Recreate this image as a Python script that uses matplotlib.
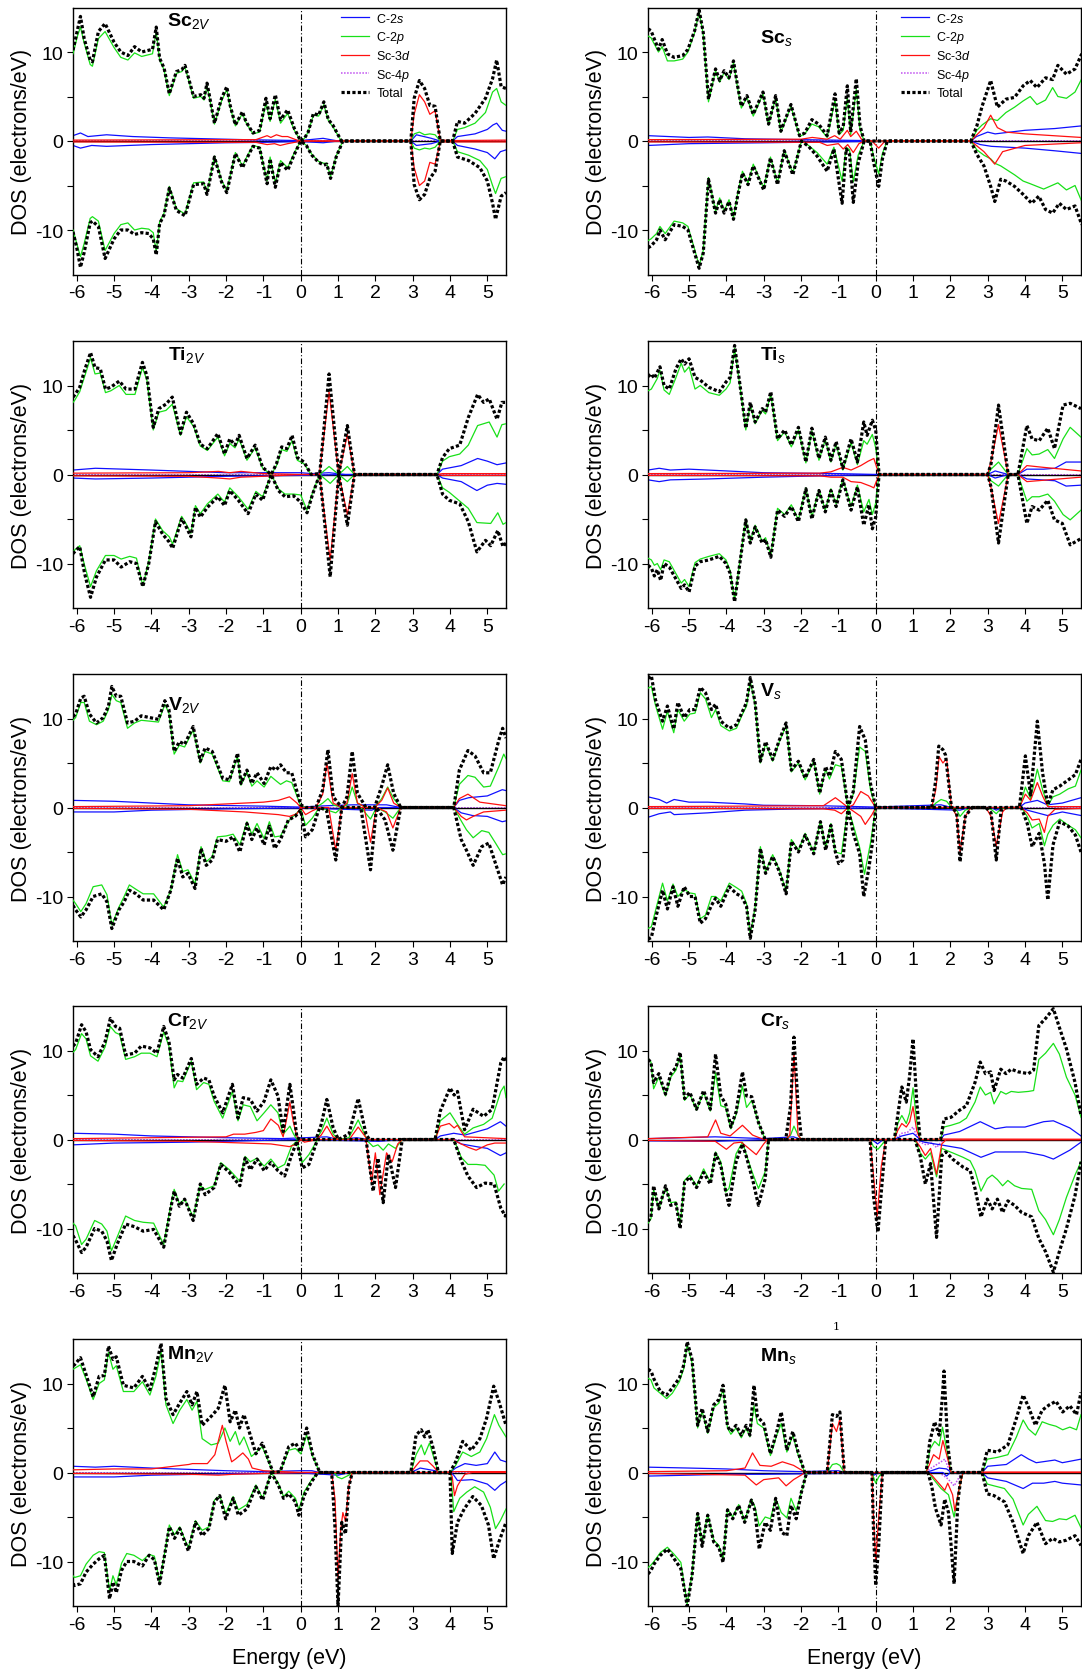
import numpy as np
import matplotlib
matplotlib.use('Agg')
import matplotlib.pyplot as plt

plt.rcParams['font.family'] = ['Liberation Sans', 'DejaVu Sans']
plt.rcParams['mathtext.fontset'] = 'custom'
plt.rcParams['mathtext.rm'] = 'Liberation Sans'
plt.rcParams['mathtext.it'] = 'Liberation Sans:italic'
plt.rcParams['mathtext.bf'] = 'Liberation Sans:bold'

# ---------------- data: (energy eV, DOS) knots ----------------
SC2V_TOT_UP = [(-6.1,10.2),(-5.98,12.5),(-5.9,14.0),(-5.8,11.5),(-5.64,9.1),(-5.58,8.9),(-5.42,12.3),(-5.24,13.2),(-5.0,11.1),(-4.82,10.0),(-4.63,9.6),(-4.45,10.6),(-4.26,10.0),(-4.07,10.2),(-3.97,10.3),(-3.87,12.8),(-3.78,9.3),(-3.66,8.2),(-3.52,5.3),(-3.33,7.8),(-3.19,8.0),(-3.1,8.5),(-3.0,7.0),(-2.87,5.0),(-2.68,5.2),(-2.59,4.8),(-2.51,6.5),(-2.45,5.2),(-2.31,2.0),(-2.12,4.8),(-1.98,6.1),(-1.89,4.0),(-1.75,1.8),(-1.56,3.3),(-1.47,2.2),(-1.28,0.9),(-1.1,1.2),(-0.93,4.8),(-0.82,2.5),(-0.68,5.2),(-0.54,2.4),(-0.35,3.5),(-0.17,1.4),(0,0),(0.1,0.3),(0.2,1.0),(0.34,3.1),(0.48,2.9),(0.62,4.4),(0.74,2.4),(0.86,1.8),(1.09,0),(2.95,0),(3.04,4.8),(3.18,6.8),(3.32,5.9),(3.46,4.0),(3.6,3.9),(3.74,0),(4.07,0),(4.2,2.2),(4.39,2.0),(4.67,3.1),(4.95,4.8),(5.14,7.0),(5.25,9.1),(5.37,6.1),(5.5,5.9)]
SC2V_P_UP = [(-6.1,9.8),(-5.98,11.8),(-5.9,12.8),(-5.8,11.0),(-5.64,8.6),(-5.58,8.4),(-5.42,11.5),(-5.24,12.3),(-5.0,10.5),(-4.82,9.4),(-4.63,9.1),(-4.45,9.9),(-4.26,9.5),(-4.07,9.7),(-3.97,9.8),(-3.87,12.3),(-3.78,9.1),(-3.66,8.0),(-3.52,5.1),(-3.33,7.6),(-3.19,7.8),(-3.1,8.3),(-3.0,6.8),(-2.87,4.8),(-2.68,5.0),(-2.59,4.6),(-2.51,6.2),(-2.45,5.0),(-2.31,1.9),(-2.12,4.5),(-1.98,5.8),(-1.89,3.8),(-1.75,1.7),(-1.56,3.1),(-1.47,2.1),(-1.28,0.8),(-1.1,1.0),(-0.93,4.3),(-0.82,2.2),(-0.68,4.7),(-0.54,2.0),(-0.35,3.1),(-0.17,1.2),(0,0),(0.1,0.3),(0.2,1.0),(0.34,2.9),(0.48,2.8),(0.62,4.1),(0.74,2.3),(0.86,1.6),(1.09,0),(2.95,0),(3.04,0.8),(3.18,1.0),(3.32,0.7),(3.46,0.8),(3.6,0.7),(3.74,0),(4.07,0),(4.2,1.3),(4.39,1.5),(4.67,2.0),(4.95,3.2),(5.14,5.5),(5.25,5.9),(5.37,4.4),(5.5,4.0)]
SC2V_D_UP = [(-6.1,0.1),(-2.0,0.15),(-1.2,0.15),(-0.9,0.6),(-0.8,0.4),(-0.65,0.7),(-0.5,0.5),(-0.35,0.5),(-0.1,0.1),(0,0),(2.95,0),(3.04,3.0),(3.18,5.2),(3.32,4.4),(3.46,3.0),(3.6,3.4),(3.74,0.1),(4.07,0.05),(5.5,0.1)]
SC2V_S_UP = [(-6.1,0.6),(-5.9,0.9),(-5.7,0.5),(-5.2,0.7),(-4.5,0.5),(-3.5,0.35),(-2.5,0.25),(-1.5,0.15),(0,0.05),(0.6,0.3),(1.0,0),(2.95,0),(3.1,0.7),(3.5,0.3),(3.74,0),(4.07,0),(4.2,0.5),(4.67,0.8),(5.0,1.3),(5.15,1.8),(5.25,2.0),(5.4,1.2),(5.5,1.1)]
SC2V_Q_UP = [(-6.1,0.0),(5.5,0.0)]
SC2V_TOT_DN = [(-6.1,-10.2),(-6.0,-12.0),(-5.9,-14.2),(-5.8,-12.5),(-5.64,-9.2),(-5.58,-9.0),(-5.42,-9.6),(-5.24,-13.2),(-5.0,-11.0),(-4.82,-10.0),(-4.63,-10.0),(-4.45,-10.5),(-4.26,-10.3),(-4.07,-10.4),(-3.95,-11.0),(-3.87,-12.8),(-3.78,-9.3),(-3.66,-8.3),(-3.52,-5.3),(-3.33,-7.8),(-3.1,-8.4),(-2.87,-4.9),(-2.6,-4.8),(-2.51,-6.0),(-2.31,-1.8),(-2.12,-4.6),(-1.98,-5.8),(-1.75,-1.4),(-1.56,-3.0),(-1.47,-2.2),(-1.28,-0.6),(-1.1,-0.8),(-0.9,-4.8),(-0.82,-2.0),(-0.68,-5.2),(-0.54,-2.4),(-0.35,-3.3),(-0.17,-1.5),(0,0),(0.15,-0.5),(0.3,-1.6),(0.48,-2.4),(0.62,-2.7),(0.7,-2.6),(0.8,-4.2),(0.95,-1.8),(1.13,0),(2.95,0),(3.04,-4.9),(3.18,-6.6),(3.32,-6.0),(3.46,-4.2),(3.6,-3.4),(3.74,0),(4.07,0),(4.2,-1.8),(4.5,-2.2),(4.8,-3.0),(5.0,-4.5),(5.14,-7.0),(5.22,-8.8),(5.37,-6.2),(5.5,-5.8)]
SC2V_P_DN = [(-6.1,-10.0),(-6.0,-11.5),(-5.9,-13.0),(-5.8,-11.5),(-5.64,-8.7),(-5.58,-8.5),(-5.42,-9.0),(-5.24,-12.3),(-5.0,-10.4),(-4.82,-9.4),(-4.63,-9.2),(-4.45,-10.0),(-4.26,-9.8),(-4.07,-9.9),(-3.95,-10.3),(-3.87,-12.5),(-3.78,-9.1),(-3.66,-8.1),(-3.52,-5.1),(-3.33,-7.6),(-3.1,-8.2),(-2.87,-4.7),(-2.6,-4.6),(-2.51,-5.8),(-2.31,-1.7),(-2.12,-4.4),(-1.98,-5.6),(-1.75,-1.3),(-1.56,-2.8),(-1.47,-2.0),(-1.28,-0.5),(-1.1,-0.7),(-0.9,-4.5),(-0.82,-1.8),(-0.68,-4.8),(-0.54,-2.2),(-0.35,-3.0),(-0.17,-1.3),(0,0),(0.15,-0.5),(0.3,-1.5),(0.48,-2.3),(0.62,-2.5),(0.7,-2.5),(0.8,-4.0),(0.95,-1.7),(1.13,0),(2.95,0),(3.04,-0.8),(3.18,-1.0),(3.32,-0.8),(3.46,-0.9),(3.6,-0.7),(3.74,0),(4.07,0),(4.2,-1.2),(4.5,-1.6),(4.8,-2.2),(5.0,-3.2),(5.14,-5.0),(5.22,-5.9),(5.37,-4.2),(5.5,-4.0)]
SC2V_D_DN = [(-6.1,-0.1),(-2.0,-0.15),(-1.2,-0.15),(-0.9,-0.4),(-0.7,-0.3),(-0.55,-0.5),(-0.35,-0.3),(-0.1,-0.1),(0,0),(2.95,0),(3.04,-3.0),(3.18,-5.0),(3.32,-4.5),(3.46,-2.4),(3.6,-2.6),(3.74,-0.1),(5.5,-0.1)]
SC2V_S_DN = [(-6.1,-0.5),(-5.9,-0.8),(-5.6,-0.5),(-5.2,-0.6),(-4.0,-0.4),(-3.0,-0.3),(-2.0,-0.2),(-1.0,-0.15),(0,-0.05),(0.6,-0.2),(1.0,0),(2.95,0),(3.1,-0.5),(3.5,-0.3),(3.74,0),(4.07,0),(4.2,-0.5),(4.67,-0.9),(5.0,-1.3),(5.2,-2.0),(5.35,-1.2),(5.5,-1.0)]
SC2V_Q_DN = [(-6.1,0.0),(5.5,0.0)]

SCS_TOT_UP = [(-6.1,12.6),(-6.02,12.4),(-5.82,10.3),(-5.72,11.4),(-5.58,9.8),(-5.4,9.4),(-5.17,9.6),(-5.03,10.3),(-4.85,12.4),(-4.73,14.7),(-4.62,12.2),(-4.48,4.7),(-4.29,8.1),(-4.18,6.8),(-4.06,7.9),(-3.93,7.1),(-3.81,9.0),(-3.7,6.2),(-3.6,3.9),(-3.45,5.1),(-3.28,3.0),(-3.02,5.5),(-2.87,1.9),(-2.68,5.1),(-2.54,1.1),(-2.27,4.1),(-2.04,0.6),(-1.9,0.9),(-1.71,2.4),(-1.53,1.9),(-1.3,0.6),(-1.09,5.3),(-0.98,0.9),(-0.87,1.6),(-0.76,6.2),(-0.67,1.0),(-0.52,7.0),(-0.42,1.7),(-0.31,0),(2.55,0),(2.71,1.7),(2.85,3.9),(3.08,6.8),(3.26,3.8),(3.49,4.7),(3.72,4.9),(3.95,6.2),(4.14,6.8),(4.32,6.0),(4.55,7.1),(4.74,6.9),(4.88,8.5),(5.11,7.5),(5.34,8.1),(5.52,9.8)]
SCS_P_UP = [(-6.1,11.8),(-6.02,11.6),(-5.82,10.0),(-5.72,10.6),(-5.58,9.0),(-5.4,9.0),(-5.17,9.2),(-5.03,10.0),(-4.85,12.2),(-4.73,14.5),(-4.62,12.0),(-4.48,4.4),(-4.29,7.9),(-4.18,6.6),(-4.06,7.7),(-3.93,6.9),(-3.81,8.8),(-3.7,6.0),(-3.6,3.7),(-3.45,4.9),(-3.28,2.8),(-3.02,5.3),(-2.87,1.8),(-2.68,4.9),(-2.54,1.0),(-2.27,3.9),(-2.04,0.5),(-1.9,0.8),(-1.71,1.9),(-1.53,1.6),(-1.3,0.4),(-1.09,4.6),(-0.98,0.7),(-0.87,1.2),(-0.76,4.9),(-0.67,0.7),(-0.52,5.8),(-0.42,1.3),(-0.31,0),(2.55,0),(2.71,1.2),(2.85,1.8),(3.08,2.5),(3.26,2.3),(3.49,3.2),(3.72,3.8),(3.95,4.5),(4.14,5.0),(4.32,4.1),(4.55,4.6),(4.74,6.0),(4.88,5.0),(5.11,4.8),(5.34,5.5),(5.52,7.0)]
SCS_D_UP = [(-6.1,0.15),(-2.0,0.2),(-1.7,0.4),(-1.3,0.2),(-1.1,0.6),(-0.95,0.2),(-0.76,1.2),(-0.67,0.5),(-0.52,1.1),(-0.35,0),(2.55,0),(2.71,0.7),(2.9,1.5),(3.08,2.9),(3.26,1.5),(3.5,1.0),(4.0,0.8),(5.5,0.4)]
SCS_S_UP = [(-6.1,0.6),(-5.0,0.4),(-4.5,0.45),(-3.5,0.25),(-2.0,0.15),(-0.3,0.05),(2.55,0),(2.7,0.5),(3.0,1.0),(3.2,0.8),(4.0,1.2),(4.8,1.4),(5.52,1.7)]
SCS_Q_UP = [(-6.1,0.0),(5.5,0.0)]
SCS_TOT_DN = [(-6.1,-12.0),(-6.02,-11.8),(-5.87,-11.1),(-5.78,-10.0),(-5.64,-11.1),(-5.4,-9.4),(-5.17,-9.6),(-5.03,-10.0),(-4.85,-12.6),(-4.73,-14.3),(-4.62,-12.6),(-4.48,-4.3),(-4.29,-8.1),(-4.18,-6.6),(-4.06,-8.1),(-3.93,-6.8),(-3.81,-8.8),(-3.7,-6.2),(-3.57,-3.6),(-3.42,-4.9),(-3.28,-2.8),(-3.0,-5.5),(-2.82,-1.9),(-2.63,-4.9),(-2.45,-1.1),(-2.22,-3.8),(-1.99,0),(-1.8,-0.6),(-1.57,-1.7),(-1.3,-3.4),(-1.12,-0.9),(-0.9,-7.0),(-0.79,-0.9),(-0.7,-1.5),(-0.6,-6.9),(-0.47,-2.5),(-0.31,0),(-0.15,0),(-0.05,-2.5),(0.08,-5.1),(0.18,-2.0),(0.31,0),(2.55,0),(2.71,-1.5),(2.9,-2.8),(3.08,-5.1),(3.19,-6.8),(3.35,-4.3),(3.49,-4.5),(3.72,-5.1),(3.95,-6.0),(4.18,-7.0),(4.37,-6.2),(4.55,-7.7),(4.74,-8.1),(4.92,-7.0),(5.11,-7.7),(5.34,-7.3),(5.52,-9.4)]
SCS_P_DN = [(-6.1,-11.2),(-6.02,-11.0),(-5.87,-10.4),(-5.78,-9.6),(-5.64,-10.4),(-5.4,-9.0),(-5.17,-9.2),(-5.03,-9.6),(-4.85,-12.2),(-4.73,-14.0),(-4.62,-12.3),(-4.48,-4.1),(-4.29,-7.9),(-4.18,-6.4),(-4.06,-7.9),(-3.93,-6.6),(-3.81,-8.6),(-3.7,-6.0),(-3.57,-3.4),(-3.42,-4.7),(-3.28,-2.6),(-3.0,-5.3),(-2.82,-1.8),(-2.63,-4.7),(-2.45,-1.0),(-2.22,-3.6),(-1.99,0),(-1.8,-0.5),(-1.57,-1.3),(-1.3,-2.6),(-1.12,-0.7),(-0.9,-4.5),(-0.79,-0.7),(-0.7,-1.0),(-0.6,-4.6),(-0.47,-1.6),(-0.31,0),(-0.15,0),(-0.05,-1.8),(0.08,-3.7),(0.18,-1.4),(0.31,0),(2.55,0),(2.71,-1.0),(2.9,-1.6),(3.08,-2.0),(3.19,-2.5),(3.35,-2.8),(3.72,-3.8),(3.95,-4.5),(4.14,-4.8),(4.5,-5.4),(4.88,-4.7),(5.11,-5.5),(5.34,-5.0),(5.52,-6.8)]
SCS_D_DN = [(-6.1,-0.1),(-1.5,-0.15),(-1.3,-0.5),(-1.0,-0.3),(-0.87,-0.9),(-0.75,-0.4),(-0.6,-1.3),(-0.45,-0.3),(-0.31,0),(-0.1,0),(0.08,-0.8),(0.25,0),(2.55,0),(2.9,-1.2),(3.19,-2.6),(3.4,-1.2),(4.0,-0.5),(5.5,-0.2)]
SCS_S_DN = [(-6.1,-0.5),(-5.0,-0.3),(-3.0,-0.2),(-0.3,-0.05),(2.55,0),(2.8,-0.4),(3.1,-0.6),(4.0,-0.8),(4.8,-1.1),(5.52,-1.4)]
SCS_Q_DN = [(-6.1,0.0),(5.5,0.0)]

TI2V_TOT_UP = [(-6.1,8.7),(-6.06,8.9),(-5.92,9.8),(-5.79,11.7),(-5.63,13.7),(-5.51,12.0),(-5.37,11.9),(-5.23,9.6),(-5.09,9.8),(-4.86,10.5),(-4.68,9.6),(-4.44,9.6),(-4.24,12.6),(-4.12,11.1),(-3.95,5.3),(-3.8,7.4),(-3.61,7.9),(-3.44,8.7),(-3.22,4.6),(-3.06,7.0),(-2.87,5.7),(-2.69,3.4),(-2.5,2.9),(-2.22,4.6),(-2.04,2.3),(-1.9,4.0),(-1.76,3.3),(-1.65,4.4),(-1.44,1.8),(-1.22,3.3),(-1.02,0.8),(-0.79,0),(-0.65,1.2),(-0.51,3.1),(-0.37,2.9),(-0.23,4.4),(-0.09,1.9),(0.09,1.4),(0.28,0),(0.51,0.1),(0.76,11.3),(1.02,0),(1.25,5.5),(1.44,0),(3.65,0),(3.8,1.9),(3.98,2.9),(4.26,3.3),(4.49,6.4),(4.74,9.0),(4.9,8.1),(5.05,8.5),(5.26,6.2),(5.39,8.1),(5.5,8.1)]
TI2V_P_UP = [(-6.1,8.1),(-6.06,8.3),(-5.92,9.3),(-5.79,11.0),(-5.63,13.1),(-5.51,11.3),(-5.37,11.4),(-5.23,9.2),(-5.09,9.4),(-4.86,10.0),(-4.68,9.0),(-4.44,9.0),(-4.24,12.0),(-4.12,10.6),(-3.95,5.0),(-3.8,7.0),(-3.61,7.2),(-3.44,7.9),(-3.22,4.4),(-3.06,6.5),(-2.87,5.4),(-2.69,3.2),(-2.5,2.7),(-2.22,4.2),(-2.04,2.1),(-1.9,3.5),(-1.76,3.0),(-1.65,4.0),(-1.44,1.6),(-1.22,3.0),(-1.02,0.7),(-0.79,0),(-0.65,1.0),(-0.51,2.8),(-0.37,2.6),(-0.23,3.8),(-0.09,1.6),(0.09,1.2),(0.28,0),(0.51,0),(0.76,0.9),(1.02,0),(1.25,0.9),(1.44,0),(3.65,0),(3.8,1.5),(3.98,2.0),(4.26,2.3),(4.49,3.3),(4.74,5.5),(5.05,5.9),(5.26,4.2),(5.39,5.6),(5.5,5.7)]
TI2V_D_UP = [(-6.1,0.15),(-3.0,0.2),(-2.2,0.35),(-1.9,0.2),(-1.6,0.35),(-1.0,0.1),(0,0),(0.5,0),(0.76,9.3),(1.02,0),(1.25,4.5),(1.44,0),(3.65,0),(3.8,0.1),(5.5,0.1)]
TI2V_S_UP = [(-6.1,0.5),(-5.5,0.7),(-4.0,0.5),(-2.0,0.2),(0,0.2),(0.3,0.1),(0.76,0.2),(1.2,0),(3.65,0),(3.8,0.6),(4.3,1.0),(4.74,1.8),(5.0,1.5),(5.26,1.1),(5.5,1.3)]
TI2V_Q_UP = [(-6.1,0.0),(5.5,0.0)]
TI2V_TOT_DN = [(-6.1,-8.9),(-6.06,-8.7),(-5.92,-8.1),(-5.79,-11.1),(-5.63,-13.8),(-5.47,-11.5),(-5.23,-9.6),(-5.0,-9.6),(-4.81,-10.4),(-4.58,-9.8),(-4.4,-10.0),(-4.23,-12.6),(-4.07,-10.0),(-3.89,-5.3),(-3.7,-6.7),(-3.52,-7.6),(-3.43,-8.3),(-3.19,-5.0),(-3.1,-5.6),(-2.94,-7.0),(-2.82,-3.7),(-2.69,-4.8),(-2.5,-3.7),(-2.22,-2.5),(-2.04,-3.5),(-1.9,-1.8),(-1.67,-2.9),(-1.41,-4.4),(-1.2,-2.2),(-1.02,-2.9),(-0.79,0),(-0.6,-1.8),(-0.42,-2.5),(-0.19,-2.4),(0,-3.1),(0.17,-4.3),(0.32,-2.2),(0.51,0),(0.79,-11.5),(1.02,0),(1.25,-5.7),(1.44,0),(3.65,0),(3.8,-2.2),(3.98,-2.9),(4.26,-3.3),(4.49,-5.3),(4.72,-8.7),(4.95,-7.4),(5.09,-8.0),(5.28,-6.3),(5.42,-8.1),(5.5,-7.7)]
TI2V_P_DN = [(-6.1,-8.7),(-6.06,-8.5),(-5.92,-8.0),(-5.79,-10.2),(-5.63,-12.6),(-5.47,-10.8),(-5.23,-9.1),(-5.0,-9.1),(-4.81,-9.5),(-4.58,-9.2),(-4.4,-9.4),(-4.23,-12.5),(-4.07,-9.8),(-3.89,-5.0),(-3.7,-6.3),(-3.52,-7.0),(-3.43,-7.8),(-3.19,-4.7),(-3.1,-5.3),(-2.94,-6.6),(-2.82,-3.5),(-2.69,-4.4),(-2.5,-3.3),(-2.22,-2.2),(-2.04,-3.1),(-1.9,-1.5),(-1.67,-2.5),(-1.41,-3.9),(-1.2,-1.9),(-1.02,-2.5),(-0.79,0),(-0.6,-1.6),(-0.42,-2.2),(-0.19,-2.2),(0,-2.3),(0.17,-4.0),(0.32,-2.0),(0.51,0),(0.79,-1.0),(1.02,0),(1.25,-0.8),(1.44,0),(3.65,0),(3.8,-1.5),(3.98,-2.0),(4.49,-3.8),(4.72,-5.4),(5.09,-5.5),(5.28,-4.3),(5.42,-5.6),(5.5,-5.4)]
TI2V_D_DN = [(-6.1,-0.15),(-3.0,-0.2),(-2.2,-0.4),(-1.9,-0.5),(-1.6,-0.3),(-1.0,-0.2),(0,0),(0.5,0),(0.79,-9.6),(1.02,0),(1.25,-4.5),(1.44,0),(3.65,0),(3.8,-0.1),(5.5,-0.1)]
TI2V_S_DN = [(-6.1,-0.4),(-5.5,-0.5),(-4.0,-0.4),(-2.0,-0.2),(0,-0.1),(1.2,0),(3.65,0),(3.8,-0.4),(4.3,-0.8),(4.72,-1.8),(5.0,-1.2),(5.26,-1.0),(5.5,-1.1)]
TI2V_Q_DN = [(-6.1,0.0),(5.5,0.0)]

TIS_TOT_UP = [(-6.1,11.0),(-6.01,11.3),(-5.93,10.8),(-5.85,11.5),(-5.78,12.1),(-5.67,10.0),(-5.53,9.6),(-5.35,11.9),(-5.21,13.0),(-5.12,12.4),(-5.0,13.0),(-4.84,10.9),(-4.7,10.6),(-4.47,9.8),(-4.19,9.3),(-4.01,10.4),(-3.9,10.9),(-3.78,14.5),(-3.64,10.2),(-3.48,5.2),(-3.36,8.1),(-3.23,5.9),(-3.04,7.4),(-2.95,7.0),(-2.81,9.3),(-2.63,4.0),(-2.44,5.0),(-2.26,3.3),(-2.07,5.3),(-1.87,1.4),(-1.71,5.2),(-1.52,1.8),(-1.35,4.2),(-1.2,1.6),(-1.06,3.7),(-0.88,0.7),(-0.66,4.0),(-0.49,1.4),(-0.32,5.9),(-0.23,4.4),(-0.09,6.1),(0,5.0),(0.09,0),(3.0,0),(3.09,1.2),(3.29,7.8),(3.55,0),(3.81,0),(4.05,5.5),(4.19,4.0),(4.38,3.8),(4.61,5.2),(4.79,2.9),(5.02,7.8),(5.21,8.0),(5.5,7.4)]
TIS_P_UP = [(-6.1,9.4),(-6.01,9.6),(-5.93,10.2),(-5.85,10.8),(-5.78,11.7),(-5.67,9.5),(-5.53,9.0),(-5.35,10.9),(-5.21,12.5),(-5.12,11.5),(-5.0,12.1),(-4.84,9.6),(-4.7,10.0),(-4.47,9.2),(-4.19,8.9),(-4.01,9.6),(-3.9,10.3),(-3.78,14.2),(-3.64,10.0),(-3.48,5.0),(-3.36,7.9),(-3.23,5.7),(-3.04,7.2),(-2.95,6.8),(-2.81,9.0),(-2.63,3.8),(-2.44,4.8),(-2.26,3.1),(-2.07,5.0),(-1.87,1.3),(-1.71,4.9),(-1.52,1.6),(-1.35,3.9),(-1.2,1.4),(-1.06,3.4),(-0.88,0.5),(-0.66,3.6),(-0.49,1.1),(-0.32,3.8),(-0.23,3.4),(-0.09,4.5),(0,3.0),(0.09,0),(3.0,0),(3.09,0.6),(3.29,1.4),(3.55,0),(3.81,0),(4.05,2.9),(4.19,2.2),(4.38,2.3),(4.61,2.8),(4.79,1.8),(5.02,4.0),(5.21,5.3),(5.5,4.2)]
TIS_D_UP = [(-6.1,0.1),(-1.5,0.15),(-1.2,0.3),(-0.88,0.8),(-0.66,0.5),(-0.4,1.0),(-0.2,1.5),(-0.05,1.8),(0.09,0),(3.0,0),(3.09,1.5),(3.29,5.6),(3.55,0),(3.81,0),(4.05,1.0),(4.5,0.8),(5.5,0.4)]
TIS_S_UP = [(-6.1,0.5),(-5.8,0.7),(-5.5,0.5),(-5.0,0.6),(-4.0,0.4),(-3.0,0.2),(-1.0,0.1),(0.09,0),(3.0,0),(3.2,0.4),(3.55,0),(3.81,0),(4.05,0.6),(4.5,0.6),(4.8,0.7),(5.1,1.4),(5.5,1.4)]
TIS_Q_UP = [(-6.1,0.0),(5.5,0.0)]
TIS_TOT_DN = [(-6.1,-10.2),(-6.01,-10.5),(-5.93,-11.4),(-5.85,-10.7),(-5.76,-11.9),(-5.67,-10.0),(-5.53,-10.4),(-5.21,-12.8),(-5.12,-12.4),(-5.0,-13.2),(-4.84,-10.3),(-4.7,-9.8),(-4.47,-9.6),(-4.19,-9.2),(-4.01,-10.0),(-3.9,-11.1),(-3.78,-14.3),(-3.64,-10.0),(-3.48,-5.1),(-3.36,-7.7),(-3.23,-5.9),(-3.04,-7.7),(-2.95,-7.3),(-2.81,-9.3),(-2.63,-4.0),(-2.44,-4.7),(-2.26,-3.6),(-2.07,-5.3),(-1.87,-1.6),(-1.71,-5.0),(-1.52,-1.8),(-1.35,-4.2),(-1.2,-1.8),(-1.06,-3.6),(-0.88,-0.6),(-0.66,-4.0),(-0.49,-1.4),(-0.32,-5.7),(-0.18,-3.4),(-0.09,-6.1),(0,-4.8),(0.09,0),(3.0,0),(3.09,-1.4),(3.29,-7.7),(3.55,0),(3.81,0),(4.05,-5.5),(4.19,-3.6),(4.38,-4.0),(4.61,-2.9),(4.79,-5.1),(5.0,-5.5),(5.21,-7.9),(5.5,-7.2)]
TIS_P_DN = [(-6.1,-9.4),(-6.01,-9.6),(-5.93,-10.2),(-5.85,-10.0),(-5.76,-10.7),(-5.67,-9.6),(-5.53,-9.8),(-5.21,-12.2),(-5.12,-11.8),(-5.0,-12.6),(-4.84,-9.9),(-4.7,-9.5),(-4.47,-9.2),(-4.19,-8.9),(-4.01,-9.6),(-3.9,-10.8),(-3.78,-14.1),(-3.64,-9.8),(-3.48,-5.0),(-3.36,-7.5),(-3.23,-5.7),(-3.04,-7.5),(-2.95,-7.1),(-2.81,-9.1),(-2.63,-3.8),(-2.44,-4.5),(-2.26,-3.4),(-2.07,-5.1),(-1.87,-1.5),(-1.71,-4.8),(-1.52,-1.7),(-1.35,-4.0),(-1.2,-1.6),(-1.06,-3.3),(-0.88,-0.5),(-0.66,-3.6),(-0.49,-1.2),(-0.32,-4.2),(-0.18,-2.8),(-0.09,-4.5),(0,-3.2),(0.09,0),(3.0,0),(3.09,-0.7),(3.29,-1.3),(3.55,0),(3.81,0),(4.05,-3.0),(4.19,-2.5),(4.38,-2.5),(4.61,-2.2),(4.79,-3.0),(5.02,-4.5),(5.21,-5.1),(5.5,-4.0)]
TIS_D_DN = [(-6.1,-0.1),(-1.5,-0.15),(-1.2,-0.3),(-0.88,-0.3),(-0.66,-0.8),(-0.4,-0.9),(-0.15,-1.3),(-0.05,-1.5),(0.09,0),(3.0,0),(3.09,-1.5),(3.29,-5.5),(3.55,0),(3.81,0),(4.05,-0.8),(5.5,-0.3)]
TIS_S_DN = [(-6.1,-0.6),(-5.8,-0.8),(-5.5,-0.6),(-4.5,-0.5),(-3.0,-0.3),(-1.0,-0.1),(0.09,0),(3.0,0),(3.2,-0.4),(3.55,0),(3.81,0),(4.05,-0.5),(4.8,-0.7),(5.1,-1.3),(5.5,-1.2)]
TIS_Q_DN = [(-6.1,0.0),(5.5,0.0)]

V2V_TOT_UP = [(-6.1,10.2),(-6.03,10.5),(-5.89,12.3),(-5.8,12.5),(-5.66,10.5),(-5.47,9.5),(-5.29,10.1),(-5.15,11.4),(-5.06,13.6),(-4.94,12.5),(-4.82,12.5),(-4.64,9.5),(-4.45,9.7),(-4.27,10.3),(-4.04,10.1),(-3.81,9.9),(-3.64,12.0),(-3.53,11.0),(-3.39,6.3),(-3.25,7.4),(-3.11,7.1),(-2.88,9.1),(-2.69,5.2),(-2.56,6.7),(-2.37,6.3),(-2.09,3.3),(-1.91,3.1),(-1.69,6.1),(-1.6,2.7),(-1.44,4.2),(-1.31,2.7),(-1.17,3.9),(-0.98,2.7),(-0.8,4.6),(-0.66,4.2),(-0.54,4.8),(-0.38,3.9),(-0.24,3.9),(0,0.3),(0.13,0),(0.41,0),(0.59,2.0),(0.73,6.5),(0.87,1.2),(1.1,0),(1.24,1.2),(1.38,6.3),(1.52,1.6),(1.75,0),(1.98,0),(2.17,2.4),(2.33,4.8),(2.49,1.6),(2.68,0),(4.1,0),(4.25,4.2),(4.48,6.4),(4.67,5.8),(4.9,3.9),(5.08,3.9),(5.31,7.6),(5.41,8.9),(5.5,7.8)]
V2V_P_UP = [(-6.1,9.8),(-6.03,10.1),(-5.89,11.8),(-5.8,11.8),(-5.66,9.7),(-5.47,9.3),(-5.29,9.7),(-5.15,11.0),(-5.06,12.7),(-4.94,12.0),(-4.82,11.8),(-4.64,8.9),(-4.45,9.5),(-4.27,9.8),(-4.04,9.7),(-3.81,9.6),(-3.64,11.6),(-3.53,10.6),(-3.39,6.0),(-3.25,7.0),(-3.11,6.8),(-2.88,8.7),(-2.69,5.0),(-2.56,6.3),(-2.37,6.0),(-2.09,3.0),(-1.91,2.9),(-1.69,5.8),(-1.6,2.5),(-1.44,4.0),(-1.31,2.4),(-1.17,3.0),(-0.98,2.3),(-0.8,3.5),(-0.66,3.0),(-0.54,2.6),(-0.38,3.0),(-0.24,2.8),(0,0.2),(0.13,0),(0.41,0),(0.59,0.5),(0.73,1.0),(0.87,0.3),(1.1,0),(1.24,0.3),(1.38,2.3),(1.52,0.5),(1.75,0),(1.98,0),(2.17,1.0),(2.33,2.3),(2.49,1.0),(2.68,0),(4.1,0),(4.25,2.6),(4.48,3.6),(4.67,3.4),(4.9,2.3),(5.08,2.4),(5.31,4.6),(5.44,6.0),(5.5,5.5)]
V2V_D_UP = [(-6.1,0.1),(-3.0,0.2),(-1.5,0.5),(-1.0,0.6),(-0.6,0.8),(-0.3,1.2),(-0.1,0.5),(0,0),(0.41,0),(0.59,1.5),(0.7,5.0),(0.87,0.5),(1.1,0),(1.24,0.5),(1.38,3.8),(1.52,0.5),(1.75,0),(1.98,0),(2.17,0.8),(2.33,2.2),(2.49,0.5),(2.68,0),(4.1,0),(4.25,1.0),(4.48,1.5),(4.8,0.6),(5.5,0.2)]
V2V_S_UP = [(-6.1,0.8),(-5.0,0.7),(-4.0,0.5),(-3.0,0.3),(-1.0,0.15),(0,0.05),(0.7,0.2),(1.4,0.3),(2.3,0.3),(2.68,0),(4.1,0),(4.25,0.8),(4.5,1.1),(5.0,1.3),(5.4,2.0),(5.5,1.9)]
V2V_Q_UP = [(-6.1,0.0),(5.5,0.0)]
V2V_TOT_DN = [(-6.1,-11.0),(-6.03,-11.5),(-5.89,-12.3),(-5.75,-11.5),(-5.56,-10.0),(-5.33,-9.7),(-5.19,-10.6),(-5.06,-13.6),(-4.87,-11.5),(-4.73,-10.6),(-4.59,-9.3),(-4.41,-9.7),(-4.22,-10.4),(-3.94,-10.4),(-3.67,-11.5),(-3.48,-9.3),(-3.3,-5.7),(-3.16,-7.8),(-3.02,-7.4),(-2.83,-9.1),(-2.67,-4.6),(-2.53,-6.5),(-2.37,-5.9),(-2.23,-3.6),(-2.0,-3.8),(-1.81,-3.3),(-1.63,-5.0),(-1.44,-1.8),(-1.31,-3.6),(-1.17,-2.3),(-0.98,-4.2),(-0.84,-2.1),(-0.7,-4.6),(-0.54,-3.6),(-0.33,-1.4),(-0.15,-1.0),(0,-0.3),(0.13,-3.3),(0.31,-2.5),(0.5,0),(0.69,-0.3),(0.94,-5.9),(1.1,0),(1.61,0),(1.87,-7.0),(2.03,0),(2.26,-1.4),(2.47,-4.8),(2.68,0),(4.1,0),(4.3,-3.6),(4.44,-4.8),(4.62,-6.5),(4.85,-4.4),(5.04,-4.0),(5.22,-6.3),(5.41,-8.7),(5.5,-7.8)]
V2V_P_DN = [(-6.1,-10.4),(-6.03,-10.8),(-5.89,-11.7),(-5.75,-10.8),(-5.56,-8.9),(-5.33,-8.7),(-5.19,-9.8),(-5.06,-13.2),(-4.87,-11.2),(-4.73,-10.0),(-4.59,-8.7),(-4.41,-9.2),(-4.22,-9.7),(-3.94,-9.7),(-3.67,-11.2),(-3.48,-9.3),(-3.3,-5.3),(-3.16,-7.2),(-3.02,-7.0),(-2.83,-8.6),(-2.67,-4.4),(-2.53,-6.1),(-2.37,-5.5),(-2.23,-3.3),(-2.0,-3.2),(-1.81,-3.0),(-1.63,-4.2),(-1.44,-1.6),(-1.31,-3.0),(-1.17,-1.8),(-0.98,-3.5),(-0.84,-1.6),(-0.7,-3.3),(-0.54,-3.2),(-0.33,-1.5),(-0.15,-0.8),(0,-0.2),(0.13,-2.0),(0.31,-1.2),(0.5,0),(0.94,-0.6),(1.1,0),(1.61,0),(1.87,-1.3),(2.03,0),(2.26,-0.5),(2.47,-1.2),(2.68,0),(4.1,0),(4.3,-1.5),(4.44,-2.5),(4.62,-3.4),(4.85,-2.6),(5.04,-2.8),(5.22,-4.0),(5.41,-5.3),(5.5,-5.2)]
V2V_D_DN = [(-6.1,-0.1),(-3.0,-0.2),(-1.5,-0.5),(-0.6,-0.8),(-0.3,-1.0),(-0.1,-0.7),(0,0),(0.13,-0.8),(0.3,-0.4),(0.5,0),(0.75,0),(0.94,-4.8),(1.1,0),(1.7,0),(1.87,-3.9),(2.03,0),(2.3,-0.5),(2.47,-2.3),(2.68,0),(4.1,0),(4.3,-1.0),(4.44,-1.4),(4.62,-1.0),(4.9,-0.5),(5.5,-0.3)]
V2V_S_DN = [(-6.1,-0.5),(-5.0,-0.5),(-4.0,-0.3),(-2.0,-0.15),(0,-0.05),(1.9,-0.3),(2.1,0),(4.1,0),(4.3,-0.6),(4.6,-0.9),(5.0,-1.0),(5.4,-1.6),(5.5,-1.5)]
V2V_Q_DN = [(-6.1,0.0),(5.5,0.0)]

VS_TOT_UP = [(-6.1,14.5),(-6.01,14.8),(-5.9,12.1),(-5.71,9.7),(-5.58,11.4),(-5.41,8.8),(-5.3,11.8),(-5.13,10.1),(-4.98,11.0),(-4.84,11.0),(-4.7,13.5),(-4.56,12.9),(-4.4,11.0),(-4.29,11.6),(-4.15,9.7),(-3.92,8.9),(-3.73,9.3),(-3.59,10.6),(-3.46,11.8),(-3.36,14.6),(-3.23,11.8),(-3.09,5.2),(-2.95,7.4),(-2.76,5.4),(-2.58,7.6),(-2.4,9.5),(-2.26,4.2),(-2.07,5.2),(-1.89,3.3),(-1.66,5.4),(-1.5,1.6),(-1.34,4.6),(-1.24,3.5),(-1.08,6.3),(-0.92,5.4),(-0.74,0),(-0.6,1.8),(-0.43,9.1),(-0.28,7.6),(-0.14,2.7),(0,0),(1.5,0),(1.61,3.1),(1.69,6.9),(1.8,6.5),(1.87,5.9),(2.03,0),(3.85,0),(4.01,5.8),(4.15,1.4),(4.33,9.7),(4.47,3.9),(4.61,0.3),(4.75,2.0),(4.93,2.4),(5.16,3.1),(5.35,3.7),(5.5,5.4)]
VS_P_UP = [(-6.1,13.4),(-6.01,13.6),(-5.9,11.5),(-5.71,8.8),(-5.58,10.8),(-5.41,8.4),(-5.3,11.0),(-5.13,9.7),(-4.98,10.5),(-4.84,10.6),(-4.7,12.9),(-4.56,12.2),(-4.4,10.1),(-4.29,11.0),(-4.15,9.2),(-3.92,8.6),(-3.73,8.9),(-3.59,10.3),(-3.46,11.4),(-3.36,14.2),(-3.23,11.5),(-3.09,5.0),(-2.95,7.2),(-2.76,5.2),(-2.58,7.4),(-2.4,9.2),(-2.26,4.0),(-2.07,5.0),(-1.89,3.1),(-1.66,5.2),(-1.5,1.5),(-1.34,4.3),(-1.24,3.2),(-1.08,4.8),(-0.92,4.6),(-0.74,0),(-0.6,1.5),(-0.43,6.8),(-0.28,6.3),(-0.14,2.0),(0,0),(1.5,0),(1.61,0.5),(1.75,0.9),(1.9,0.7),(2.03,0),(3.85,0),(4.01,2.3),(4.15,1.0),(4.33,4.3),(4.47,2.0),(4.61,0.2),(4.75,1.2),(4.93,1.5),(5.16,2.1),(5.35,2.4),(5.5,4.2)]
VS_D_UP = [(-6.1,0.1),(-1.4,0.2),(-1.08,1.1),(-0.92,0.6),(-0.74,0),(-0.6,0.3),(-0.4,1.8),(-0.2,1.3),(0,0),(1.5,0),(1.61,2.0),(1.7,5.7),(1.8,5.0),(1.9,5.5),(2.03,0),(3.85,0),(4.01,1.5),(4.15,0.8),(4.33,2.8),(4.47,1.3),(4.61,0.1),(5.5,0.1)]
VS_S_UP = [(-6.1,1.2),(-5.8,0.9),(-5.6,0.5),(-5.4,0.9),(-5.0,0.6),(-4.5,0.6),(-3.5,0.4),(-3.0,0.25),(-1.5,0.2),(0,0.05),(1.75,0.3),(2.03,0),(3.85,0),(4.0,0.5),(4.33,0.8),(4.6,0.3),(5.0,0.5),(5.5,1.1)]
VS_Q_UP = [(-6.1,0.0),(5.5,0.0)]
VS_TOT_DN = [(-6.1,-14.8),(-6.01,-14.6),(-5.9,-12.5),(-5.71,-9.3),(-5.58,-11.4),(-5.43,-8.9),(-5.3,-11.1),(-5.13,-8.9),(-4.98,-10.0),(-4.84,-10.0),(-4.7,-13.0),(-4.56,-12.5),(-4.4,-11.0),(-4.29,-10.2),(-4.15,-11.1),(-3.92,-8.9),(-3.73,-9.7),(-3.59,-10.0),(-3.46,-11.1),(-3.36,-14.7),(-3.23,-11.5),(-3.09,-4.6),(-2.95,-7.4),(-2.76,-5.5),(-2.58,-7.2),(-2.4,-9.7),(-2.26,-3.8),(-2.07,-5.0),(-1.89,-3.1),(-1.66,-5.2),(-1.48,-1.6),(-1.34,-4.8),(-1.2,-2.0),(-1.08,-5.0),(-0.99,-6.3),(-0.88,-5.9),(-0.74,0),(-0.6,-2.9),(-0.43,-5.2),(-0.32,-10.0),(-0.19,-7.0),(-0.09,-4.0),(0,0),(2.05,0),(2.17,-0.6),(2.26,-6.1),(2.4,-1.0),(2.58,0),(2.95,0),(3.09,-0.6),(3.23,-5.9),(3.36,-0.3),(3.5,0),(3.9,0),(4.06,-1.8),(4.19,-4.4),(4.38,-2.9),(4.52,-6.3),(4.61,-10.4),(4.75,-4.2),(4.93,-1.6),(5.16,-2.1),(5.35,-3.1),(5.5,-5.0)]
VS_P_DN = [(-6.1,-13.6),(-6.01,-13.4),(-5.9,-11.6),(-5.71,-8.5),(-5.58,-10.5),(-5.43,-8.6),(-5.3,-10.0),(-5.13,-9.2),(-4.98,-9.6),(-4.84,-9.7),(-4.7,-12.5),(-4.56,-12.1),(-4.4,-10.0),(-4.29,-10.0),(-4.15,-10.5),(-3.92,-8.5),(-3.73,-9.0),(-3.59,-9.4),(-3.46,-10.8),(-3.36,-14.3),(-3.23,-11.2),(-3.09,-4.4),(-2.95,-7.2),(-2.76,-5.3),(-2.58,-7.0),(-2.4,-9.4),(-2.26,-3.6),(-2.07,-4.8),(-1.89,-2.9),(-1.66,-5.0),(-1.48,-1.5),(-1.34,-4.6),(-1.2,-1.8),(-1.08,-5.0),(-0.92,-5.2),(-0.74,0),(-0.6,-2.0),(-0.43,-4.5),(-0.3,-7.5),(-0.14,-4.0),(0,0),(2.05,0),(2.17,-0.3),(2.26,-1.0),(2.4,-0.3),(2.58,0),(2.95,0),(3.09,-0.2),(3.23,-0.7),(3.36,-0.1),(3.5,0),(3.9,0),(4.06,-1.0),(4.19,-2.3),(4.38,-1.8),(4.52,-4.3),(4.61,-3.0),(4.75,-2.0),(4.93,-1.3),(5.16,-2.0),(5.35,-2.5),(5.5,-3.4)]
VS_D_DN = [(-6.1,-0.1),(-1.4,-0.15),(-1.1,-0.3),(-0.92,-0.7),(-0.74,0),(-0.4,-1.0),(-0.28,-1.9),(-0.1,-0.8),(0,0),(2.05,0),(2.17,-1.0),(2.26,-5.0),(2.4,-1.0),(2.55,0),(2.95,0),(3.09,-1.0),(3.23,-4.3),(3.4,-0.5),(3.5,0),(3.9,0),(4.06,-0.6),(4.19,-1.4),(4.38,-1.3),(4.52,-2.8),(4.61,-1.0),(4.8,-0.2),(5.5,-0.1)]
VS_S_DN = [(-6.1,-1.1),(-5.8,-0.7),(-5.5,-0.5),(-5.4,-0.8),(-4.5,-0.6),(-3.5,-0.3),(-2.0,-0.15),(0,-0.05),(2.26,-0.3),(2.5,0),(3.1,0),(3.23,-0.3),(3.4,0),(3.9,0),(4.06,-0.3),(4.33,-0.6),(4.6,-0.9),(5.0,-0.5),(5.5,-0.9)]
VS_Q_DN = [(-6.1,0.0),(5.5,0.0)]

CR2V_TOT_UP = [(-6.1,10.5),(-6.03,10.8),(-5.87,12.9),(-5.75,12.1),(-5.63,10.1),(-5.43,9.3),(-5.24,11.0),(-5.1,13.6),(-4.96,12.7),(-4.85,12.5),(-4.69,9.5),(-4.45,9.7),(-4.27,10.5),(-4.04,10.3),(-3.85,9.7),(-3.67,12.7),(-3.53,11.0),(-3.39,6.7),(-3.3,7.3),(-3.16,6.9),(-2.93,9.1),(-2.79,6.2),(-2.6,6.9),(-2.46,6.7),(-2.32,4.9),(-2.09,3.0),(-1.83,6.2),(-1.68,2.4),(-1.54,4.7),(-1.35,4.5),(-1.17,3.2),(-0.98,4.3),(-0.8,6.7),(-0.61,4.9),(-0.47,0.9),(-0.29,6.2),(-0.19,3.2),(-0.1,0.2),(0,0),(0.41,0),(0.55,1.7),(0.7,4.5),(0.87,1.3),(1.01,0),(1.29,0.6),(1.54,4.6),(1.75,0.6),(1.84,0),(3.6,0),(3.74,3.2),(4.0,5.8),(4.11,5.0),(4.2,5.4),(4.39,1.1),(4.62,3.4),(4.9,2.6),(5.13,3.4),(5.36,8.6),(5.45,9.3),(5.5,8.8)]
CR2V_P_UP = [(-6.1,9.8),(-6.03,10.1),(-5.87,11.9),(-5.75,11.3),(-5.63,9.4),(-5.43,8.8),(-5.24,10.4),(-5.1,12.7),(-4.96,12.0),(-4.85,11.8),(-4.69,9.0),(-4.45,9.3),(-4.27,9.7),(-4.04,9.7),(-3.85,9.3),(-3.67,12.1),(-3.53,10.5),(-3.39,5.8),(-3.3,6.6),(-3.16,6.5),(-2.93,8.8),(-2.79,5.6),(-2.6,6.4),(-2.46,6.2),(-2.32,4.3),(-2.09,2.4),(-1.83,5.4),(-1.68,2.1),(-1.54,3.9),(-1.35,3.7),(-1.17,2.1),(-0.98,3.0),(-0.8,3.9),(-0.61,3.0),(-0.47,0.6),(-0.29,1.5),(-0.19,0.6),(-0.1,0),(0.41,0),(0.55,0.9),(0.7,2.4),(0.87,0.6),(1.01,0),(1.29,0.2),(1.54,2.2),(1.75,0.2),(1.84,0),(3.6,0),(3.74,2.1),(4.0,3.0),(4.2,1.7),(4.39,0.6),(4.62,1.3),(4.9,1.7),(5.13,2.4),(5.36,5.4),(5.45,6.0),(5.5,4.7)]
CR2V_D_UP = [(-6.1,0.1),(-2.0,0.3),(-1.8,0.6),(-1.5,0.6),(-1.2,0.8),(-1.0,1.0),(-0.8,2.3),(-0.6,1.6),(-0.47,0.3),(-0.29,4.2),(-0.2,2.0),(-0.1,0.3),(0,0),(0.41,0),(0.55,0.5),(0.7,1.5),(0.87,0.3),(1.01,0),(1.3,0),(1.54,1.4),(1.75,0.2),(1.84,0),(3.6,0),(3.74,1.5),(3.98,1.8),(4.11,1.3),(4.2,1.6),(4.39,0.3),(5.5,0.1)]
CR2V_S_UP = [(-6.1,0.7),(-5.0,0.6),(-4.0,0.4),(-2.0,0.2),(-0.5,0.1),(0.7,0.3),(1.0,0),(1.5,0.2),(1.8,0),(3.6,0),(3.74,0.4),(4.1,0.7),(4.4,0.5),(5.0,1.2),(5.35,2.0),(5.5,1.5)]
CR2V_Q_UP = [(-6.1,0.0),(5.5,0.0)]
CR2V_TOT_DN = [(-6.1,-10.8),(-6.03,-11.3),(-5.87,-12.7),(-5.75,-12.1),(-5.52,-10.0),(-5.33,-10.3),(-5.19,-11.4),(-5.07,-13.6),(-4.92,-11.8),(-4.69,-9.5),(-4.45,-9.8),(-4.22,-10.3),(-3.94,-10.1),(-3.67,-12.1),(-3.48,-7.7),(-3.39,-5.8),(-3.25,-7.5),(-3.11,-6.7),(-2.88,-9.1),(-2.69,-5.0),(-2.56,-6.2),(-2.32,-5.4),(-2.14,-2.8),(-1.91,-3.7),(-1.63,-5.2),(-1.49,-2.1),(-1.35,-3.4),(-1.17,-2.2),(-0.98,-3.5),(-0.8,-2.6),(-0.61,-3.5),(-0.43,-4.1),(-0.24,-1.7),(-0.1,-0.2),(0.04,-3.2),(0.22,-2.8),(0.45,0),(1.75,0),(1.94,-5.8),(2.07,-2.1),(2.21,-7.1),(2.35,-1.7),(2.54,-5.4),(2.72,0),(4.1,0),(4.3,-2.4),(4.48,-4.1),(4.71,-5.4),(4.94,-4.9),(5.18,-5.0),(5.36,-7.7),(5.48,-8.6),(5.5,-8.4)]
CR2V_P_DN = [(-6.1,-9.4),(-6.03,-9.7),(-5.87,-11.8),(-5.75,-11.2),(-5.52,-9.1),(-5.33,-9.5),(-5.19,-10.3),(-5.07,-12.5),(-4.92,-11.0),(-4.69,-8.6),(-4.45,-9.1),(-4.22,-9.3),(-3.94,-9.4),(-3.67,-11.8),(-3.48,-7.4),(-3.39,-5.6),(-3.25,-7.2),(-3.11,-6.7),(-2.88,-8.7),(-2.69,-5.2),(-2.56,-5.6),(-2.32,-5.2),(-2.14,-2.6),(-1.91,-3.4),(-1.63,-4.7),(-1.49,-1.9),(-1.35,-2.5),(-1.17,-2.1),(-0.98,-3.0),(-0.8,-2.2),(-0.61,-3.2),(-0.43,-2.8),(-0.24,-0.7),(-0.1,-0.2),(0.04,-2.6),(0.22,-1.7),(0.45,0),(1.75,0),(1.94,-0.8),(2.07,-0.6),(2.21,-1.2),(2.35,-0.5),(2.54,-1.0),(2.72,0),(4.1,0),(4.3,-2.0),(4.48,-2.8),(4.71,-2.8),(4.94,-2.9),(5.18,-4.0),(5.3,-5.8),(5.45,-5.0)]
CR2V_D_DN = [(-6.1,-0.1),(-3.0,-0.2),(-1.5,-0.4),(-0.8,-0.5),(-0.3,-0.8),(-0.1,-0.5),(0,0),(0.1,-0.3),(0.45,0),(1.75,0),(1.9,-4.8),(2.0,-1.5),(2.12,-6.2),(2.3,-1.5),(2.45,-2.5),(2.6,-0.5),(2.72,0),(4.1,0),(4.2,-0.3),(4.5,-0.9),(4.7,-1.2),(5.0,-0.6),(5.2,-0.4),(5.5,-0.4)]
CR2V_S_DN = [(-6.1,-0.6),(-5.0,-0.4),(-3.0,-0.3),(-1.0,-0.1),(0,0),(2.1,-0.2),(2.7,0),(4.1,0),(4.3,-0.5),(4.7,-0.8),(5.0,-1.0),(5.35,-1.8),(5.5,-1.5)]
CR2V_Q_DN = [(-6.1,0.0),(5.5,0.0)]

CRS_TOT_UP = [(-6.1,9.0),(-6.02,8.7),(-5.95,6.4),(-5.81,7.4),(-5.63,5.1),(-5.49,7.4),(-5.35,8.1),(-5.24,9.8),(-5.12,4.6),(-4.98,5.3),(-4.8,3.4),(-4.61,5.5),(-4.43,3.4),(-4.29,9.6),(-4.15,4.9),(-4.02,4.0),(-3.88,1.4),(-3.74,3.1),(-3.57,7.6),(-3.46,4.9),(-3.32,4.8),(-3.14,1.9),(-2.96,0),(-2.41,0),(-2.28,3.8),(-2.19,11.5),(-2.08,3.8),(-1.99,0),(0.5,0),(0.59,2.7),(0.7,5.9),(0.82,4.2),(0.91,7.2),(1.0,11.3),(1.1,4.2),(1.19,0),(1.74,0),(1.83,2.3),(2.02,2.5),(2.25,3.3),(2.43,3.8),(2.66,6.4),(2.8,8.7),(2.94,7.4),(3.08,7.6),(3.17,5.5),(3.35,7.9),(3.49,7.4),(3.63,7.9),(3.82,7.6),(4.09,7.4),(4.23,7.8),(4.37,12.8),(4.55,13.6),(4.76,14.7),(4.92,12.6),(5.11,10.2),(5.34,6.4),(5.5,2.7)]
CRS_P_UP = [(-6.1,9.0),(-6.02,8.7),(-5.95,5.7),(-5.81,7.0),(-5.63,4.9),(-5.49,7.0),(-5.35,7.8),(-5.24,9.5),(-5.12,4.4),(-4.98,5.1),(-4.8,3.3),(-4.61,5.3),(-4.43,3.2),(-4.29,7.5),(-4.15,3.8),(-4.02,3.6),(-3.88,1.2),(-3.74,2.8),(-3.57,6.0),(-3.46,3.6),(-3.32,4.4),(-3.14,1.9),(-2.96,0),(-2.41,0),(-2.28,0.5),(-2.19,1.5),(-2.08,0.5),(-1.99,0),(0.5,0),(0.59,1.8),(0.7,2.7),(0.82,1.8),(0.91,3.0),(1.0,5.8),(1.1,2.0),(1.19,0),(1.74,0),(1.83,1.4),(2.02,1.6),(2.25,1.9),(2.43,2.4),(2.66,4.2),(2.8,5.9),(2.94,5.0),(3.08,5.3),(3.17,4.0),(3.35,5.4),(3.49,5.1),(3.63,5.4),(3.82,5.3),(4.09,5.4),(4.23,5.5),(4.37,9.0),(4.55,9.7),(4.76,10.8),(4.92,9.6),(5.11,7.0),(5.34,5.0),(5.5,2.5)]
CRS_D_UP = [(-6.1,0.1),(-4.5,0.3),(-4.29,2.2),(-4.15,0.7),(-3.9,0.4),(-3.57,1.6),(-3.3,0.5),(-3.0,0),(-2.41,0),(-2.3,0.5),(-2.19,9.7),(-2.08,0.5),(-1.99,0),(0.5,0),(0.59,1.0),(0.7,1.8),(0.82,1.4),(0.91,2.0),(1.0,3.7),(1.1,1.0),(1.19,0),(1.8,0.05),(5.5,0.03)]
CRS_S_UP = [(-6.1,0.1),(-4.3,0.3),(-3.0,0.1),(-2.2,0.3),(-2.0,0),(0.5,0),(0.7,0.4),(1.0,0.7),(1.19,0),(1.74,0),(1.83,0.5),(2.25,0.9),(2.8,2.0),(3.2,1.2),(3.5,1.4),(4.0,1.4),(4.5,2.0),(4.76,2.1),(5.2,1.3),(5.5,0.4)]
CRS_Q_UP = [(0.5,0),(0.6,0.3),(0.7,0.7),(0.85,0.8),(1.0,1.4),(1.1,0.4),(1.19,0)]
CRS_TOT_DN = [(-6.1,-9.2),(-6.02,-8.7),(-5.95,-5.2),(-5.81,-7.8),(-5.63,-5.2),(-5.49,-7.4),(-5.35,-7.2),(-5.24,-10.0),(-5.12,-4.8),(-4.98,-4.2),(-4.8,-5.4),(-4.61,-3.7),(-4.43,-5.0),(-4.29,-1.6),(-4.15,-2.9),(-4.02,-5.8),(-3.93,-7.4),(-3.74,-2.5),(-3.57,-0.5),(-3.46,-2.0),(-3.28,-4.8),(-3.14,-7.4),(-2.96,-4.4),(-2.87,0),(-0.15,0),(-0.06,-6.3),(0.06,-10.4),(0.18,-4.4),(0.27,0),(1.05,0),(1.19,-1.8),(1.33,-5.0),(1.47,-2.7),(1.63,-11.0),(1.77,-1.8),(1.88,-1.4),(2.06,-2.2),(2.34,-3.1),(2.53,-3.5),(2.66,-5.5),(2.82,-8.7),(2.99,-6.7),(3.12,-7.8),(3.26,-6.7),(3.4,-8.2),(3.54,-6.9),(3.72,-7.4),(3.91,-8.2),(4.18,-8.7),(4.37,-11.1),(4.55,-12.6),(4.76,-14.9),(4.92,-12.6),(5.11,-10.0),(5.34,-6.3),(5.5,-2.5)]
CRS_P_DN = [(-6.1,-9.4),(-6.02,-8.9),(-5.95,-5.6),(-5.81,-7.8),(-5.63,-5.4),(-5.49,-7.1),(-5.35,-7.0),(-5.24,-9.6),(-5.12,-4.6),(-4.98,-4.0),(-4.8,-5.2),(-4.61,-3.3),(-4.43,-4.8),(-4.29,-1.4),(-4.15,-2.5),(-4.02,-5.9),(-3.93,-5.5),(-3.74,-1.6),(-3.57,-0.3),(-3.46,-1.8),(-3.28,-4.0),(-3.14,-5.5),(-2.96,-3.6),(-2.87,0),(-0.15,0),(-0.06,-0.8),(0.06,-1.1),(0.18,-0.5),(0.27,0),(1.05,0),(1.19,-1.5),(1.33,-2.2),(1.47,-1.5),(1.63,-4.2),(1.77,-1.0),(1.88,-1.2),(2.06,-1.5),(2.34,-2.0),(2.53,-2.4),(2.66,-3.5),(2.82,-5.8),(2.99,-4.4),(3.12,-4.0),(3.26,-4.5),(3.4,-5.2),(3.54,-4.6),(3.72,-5.2),(3.91,-5.5),(4.18,-5.6),(4.37,-8.0),(4.55,-9.0),(4.76,-10.7),(4.92,-9.0),(5.11,-6.5),(5.34,-4.0),(5.5,-2.5)]
CRS_D_DN = [(-6.1,-0.1),(-4.3,-0.2),(-4.0,-1.1),(-3.8,-0.4),(-3.6,-0.3),(-3.4,-1.0),(-3.2,-1.7),(-3.0,-0.5),(-2.9,0),(-0.15,0),(-0.06,-4.0),(0.04,-8.6),(0.15,-3.0),(0.27,0),(1.05,0),(1.19,-0.8),(1.33,-1.8),(1.47,-1.0),(1.63,-3.9),(1.77,-0.5),(1.88,-0.05),(5.5,-0.03)]
CRS_S_DN = [(-6.1,-0.15),(-4.3,-0.2),(-2.9,0),(-0.1,0),(0.05,-0.5),(0.2,0),(1.1,0),(1.3,-0.3),(1.88,-0.7),(2.3,-1.0),(2.82,-2.0),(3.2,-1.4),(3.6,-1.4),(4.0,-1.4),(4.5,-1.8),(4.76,-2.2),(5.2,-1.2),(5.5,-0.3)]
CRS_Q_DN = [(1.1,0),(1.19,-0.3),(1.35,-0.6),(1.5,-0.4),(1.63,-0.9),(1.75,-0.3),(1.85,0)]

MN2V_TOT_UP = [(-6.1,12.0),(-6.06,12.1),(-5.9,12.9),(-5.75,11.0),(-5.56,8.5),(-5.4,10.8),(-5.26,10.9),(-5.15,14.2),(-5.03,12.7),(-4.94,13.0),(-4.75,9.8),(-4.47,9.5),(-4.24,10.8),(-4.04,9.3),(-3.88,11.9),(-3.74,14.5),(-3.61,8.3),(-3.42,6.5),(-3.24,7.8),(-3.05,9.1),(-2.91,7.6),(-2.78,9.1),(-2.64,5.3),(-2.4,6.3),(-2.21,7.2),(-2.03,9.8),(-1.89,5.7),(-1.75,7.0),(-1.64,5.0),(-1.52,6.5),(-1.38,4.6),(-1.2,2.1),(-1.03,3.3),(-0.88,1.6),(-0.74,0),(-0.55,0.1),(-0.32,2.9),(-0.14,3.3),(0,2.3),(0.16,5.0),(0.32,2.0),(0.51,0),(2.95,0),(3.09,4.2),(3.23,4.8),(3.32,4.0),(3.41,4.8),(3.55,2.7),(3.69,0),(4.0,0),(4.15,1.2),(4.34,3.5),(4.57,2.5),(4.8,3.8),(4.98,6.1),(5.17,9.7),(5.31,8.0),(5.5,5.3)]
MN2V_P_UP = [(-6.1,11.6),(-6.06,11.7),(-5.9,12.1),(-5.75,10.5),(-5.56,8.2),(-5.4,10.0),(-5.26,10.4),(-5.15,13.5),(-5.03,11.6),(-4.94,12.0),(-4.75,9.1),(-4.47,9.1),(-4.24,10.2),(-4.04,8.7),(-3.88,10.8),(-3.74,13.6),(-3.61,7.6),(-3.42,5.5),(-3.24,7.0),(-3.05,8.2),(-2.91,7.0),(-2.78,8.0),(-2.64,3.8),(-2.4,3.1),(-2.21,3.3),(-2.03,5.0),(-1.89,3.5),(-1.75,4.6),(-1.64,3.1),(-1.52,4.0),(-1.32,1.8),(-1.03,2.9),(-0.88,1.4),(-0.74,0),(-0.55,0.1),(-0.32,2.5),(-0.14,2.7),(0,2.1),(0.16,4.2),(0.32,1.8),(0.51,0),(2.95,0),(3.09,2.0),(3.23,3.1),(3.32,2.0),(3.45,3.3),(3.6,1.2),(3.69,0),(4.0,0),(4.15,0.8),(4.34,2.3),(4.57,1.8),(4.8,2.3),(4.98,3.8),(5.19,6.5),(5.31,5.3),(5.5,4.0)]
MN2V_D_UP = [(-6.1,0.3),(-5.0,0.4),(-4.0,0.4),(-3.0,0.9),(-2.9,1.0),(-2.5,1.0),(-2.3,2.0),(-2.1,5.3),(-2.0,3.5),(-1.85,1.2),(-1.75,1.5),(-1.55,2.2),(-1.4,1.5),(-1.3,0.5),(-1.0,0.2),(0,0),(2.95,0),(3.1,0.8),(3.2,1.3),(3.4,1.3),(3.55,0.7),(3.69,0),(4.15,0.1),(5.5,0.1)]
MN2V_S_UP = [(-6.1,0.7),(-5.5,0.6),(-5.0,0.7),(-4.0,0.5),(-3.0,0.35),(-2.0,0.2),(-1.0,0.1),(0,0.2),(0.3,0.2),(0.5,0),(2.95,0),(3.2,0.5),(3.6,0.2),(3.7,0),(4.0,0),(4.15,0.5),(4.4,1.0),(4.7,0.8),(5.0,1.0),(5.2,2.3),(5.35,1.4),(5.5,1.2)]
MN2V_Q_UP = [(-6.1,0.0),(5.5,0.0)]
MN2V_TOT_DN = [(-6.1,-12.5),(-6.06,-12.7),(-5.9,-12.5),(-5.75,-11.2),(-5.56,-10.3),(-5.4,-9.7),(-5.26,-9.3),(-5.12,-14.2),(-5.03,-12.3),(-4.94,-13.5),(-4.8,-11.0),(-4.66,-10.0),(-4.47,-10.0),(-4.24,-10.5),(-4.06,-9.3),(-3.92,-9.8),(-3.78,-12.5),(-3.61,-8.4),(-3.52,-6.1),(-3.38,-7.4),(-3.24,-6.3),(-3.01,-8.8),(-2.82,-5.6),(-2.64,-7.1),(-2.46,-6.3),(-2.31,-3.3),(-2.17,-2.6),(-2.01,-5.2),(-1.81,-2.9),(-1.67,-4.8),(-1.44,-4.1),(-1.2,-1.6),(-1.02,-3.1),(-0.79,0),(-0.6,-1.4),(-0.46,-2.9),(-0.32,-2.4),(-0.14,-3.3),(-0.05,-4.8),(0.09,-2.6),(0.28,-1.1),(0.46,0),(0.83,0),(0.92,-6.3),(1.0,-15.0),(1.1,-5.6),(1.2,-6.9),(1.29,-1.6),(1.38,0),(4.0,0),(4.06,-9.1),(4.2,-5.6),(4.38,-4.1),(4.61,-2.7),(4.84,-3.7),(5.03,-5.9),(5.17,-9.7),(5.31,-7.8),(5.5,-5.6)]
MN2V_P_DN = [(-6.1,-11.6),(-6.06,-11.8),(-5.9,-11.6),(-5.75,-10.3),(-5.56,-9.3),(-5.4,-8.9),(-5.26,-9.0),(-5.12,-13.3),(-5.03,-11.6),(-4.94,-12.6),(-4.8,-10.2),(-4.66,-9.1),(-4.47,-9.3),(-4.24,-9.9),(-4.06,-9.2),(-3.92,-9.4),(-3.78,-12.3),(-3.61,-8.2),(-3.52,-5.9),(-3.38,-7.0),(-3.24,-6.1),(-3.01,-8.5),(-2.82,-5.4),(-2.64,-6.5),(-2.46,-6.1),(-2.31,-3.1),(-2.17,-2.6),(-2.01,-4.6),(-1.81,-2.7),(-1.67,-4.2),(-1.44,-3.6),(-1.2,-1.4),(-1.02,-2.9),(-0.79,0),(-0.6,-1.2),(-0.46,-2.7),(-0.32,-2.1),(-0.14,-2.9),(-0.05,-4.2),(0.09,-2.2),(0.28,-0.9),(0.46,0),(0.9,0),(0.98,-0.5),(1.1,-0.7),(1.29,-0.3),(1.38,0),(4.02,0),(4.1,-4.4),(4.26,-2.9),(4.45,-2.2),(4.66,-1.6),(4.9,-2.2),(5.08,-3.9),(5.22,-6.3),(5.35,-5.4),(5.5,-4.1)]
MN2V_D_DN = [(-6.1,-0.1),(-3.0,-0.2),(-2.2,-0.3),(-1.8,-0.2),(0,0),(0.83,0),(0.92,-3.0),(1.0,-12.0),(1.07,-6.5),(1.13,-4.5),(1.2,-5.5),(1.29,-1.5),(1.38,0),(4.02,0),(4.06,-0.5),(4.12,-2.6),(4.2,-1.5),(4.3,-0.8),(4.4,-0.2),(4.6,0),(5.5,0)]
MN2V_S_DN = [(-6.1,-0.5),(-5.0,-0.5),(-4.0,-0.3),(-2.0,-0.15),(0,-0.05),(1.0,-0.3),(1.3,0),(4.02,0),(4.1,-0.3),(4.2,-0.9),(4.6,-0.8),(5.0,-1.3),(5.2,-2.0),(5.35,-1.4),(5.5,-1.0)]
MN2V_Q_DN = [(-6.1,0.0),(5.5,0.0)]

MNS_TOT_UP = [(-6.1,11.6),(-6.02,11.4),(-5.94,10.5),(-5.77,9.1),(-5.6,8.7),(-5.45,9.5),(-5.26,10.6),(-5.14,12.1),(-5.05,14.7),(-4.92,12.7),(-4.77,5.3),(-4.65,7.2),(-4.5,4.6),(-4.34,7.6),(-4.2,8.2),(-4.09,9.8),(-3.97,5.2),(-3.88,4.6),(-3.74,5.3),(-3.6,4.2),(-3.47,5.3),(-3.37,4.2),(-3.26,9.8),(-3.17,6.3),(-3.0,5.5),(-2.82,2.1),(-2.65,4.6),(-2.53,6.8),(-2.38,2.5),(-2.22,4.6),(-2.08,2.3),(-1.9,0),(-1.3,0),(-1.16,6.5),(-1.05,6.3),(-0.96,6.8),(-0.84,0),(1.35,0),(1.45,3.5),(1.58,5.7),(1.7,4.2),(1.79,8.7),(1.83,11.4),(1.93,3.1),(2.02,0),(2.85,0),(2.99,2.5),(3.26,2.3),(3.54,3.1),(3.77,6.1),(3.95,8.7),(4.09,7.4),(4.28,5.3),(4.46,7.0),(4.65,7.6),(4.83,8.0),(5.01,6.8),(5.2,7.5),(5.38,6.5),(5.5,9.0)]
MNS_P_UP = [(-6.1,10.6),(-6.02,10.4),(-5.94,9.5),(-5.77,8.9),(-5.6,8.3),(-5.45,8.9),(-5.26,10.2),(-5.14,11.7),(-5.05,14.4),(-4.92,12.3),(-4.77,5.0),(-4.65,6.9),(-4.5,4.4),(-4.34,7.3),(-4.2,7.8),(-4.09,9.4),(-3.97,5.0),(-3.88,4.3),(-3.74,5.0),(-3.6,3.9),(-3.47,5.0),(-3.37,4.0),(-3.26,7.5),(-3.17,5.5),(-3.0,5.0),(-2.82,1.9),(-2.65,4.2),(-2.53,5.5),(-2.38,2.3),(-2.22,4.2),(-2.08,2.0),(-1.9,0),(-1.3,0),(-1.16,0.9),(-1.05,1.0),(-0.96,0.8),(-0.84,0),(1.35,0),(1.45,2.6),(1.58,3.5),(1.7,3.0),(1.79,5.1),(1.93,2.0),(2.02,0),(2.85,0),(2.99,1.5),(3.26,1.7),(3.54,2.0),(3.77,4.0),(3.95,5.9),(4.09,4.9),(4.28,4.2),(4.46,5.7),(4.65,5.4),(4.83,5.2),(5.01,4.8),(5.2,5.1),(5.38,4.8),(5.5,6.5)]
MNS_D_UP = [(-6.1,0.1),(-4.0,0.2),(-3.5,0.5),(-3.3,2.2),(-3.1,0.8),(-2.8,0.7),(-2.5,1.2),(-2.2,0.8),(-2.0,0.3),(-1.9,0),(-1.3,0),(-1.16,5.5),(-1.05,4.6),(-0.96,6.0),(-0.84,0),(1.35,0),(1.45,1.0),(1.55,2.0),(1.7,1.5),(1.8,3.6),(1.93,1.5),(2.02,0),(3.0,0.05),(5.5,0.05)]
MNS_S_UP = [(-6.1,0.6),(-5.0,0.5),(-4.0,0.4),(-3.0,0.2),(-2.0,0.1),(-1.0,0.2),(-0.84,0),(1.35,0),(1.7,0.5),(1.9,0.4),(2.02,0),(2.85,0),(3.0,0.7),(3.5,0.9),(3.9,2.0),(4.1,1.5),(4.3,1.1),(4.8,1.4),(5.0,1.1),(5.5,1.5)]
MNS_Q_UP = [(1.35,0),(1.45,0.4),(1.6,0.8),(1.75,1.2),(1.85,1.5),(1.95,0.5),(2.02,0)]
MNS_TOT_DN = [(-6.1,-11.4),(-6.02,-11.0),(-5.94,-10.3),(-5.77,-9.3),(-5.58,-8.6),(-5.4,-9.7),(-5.22,-10.8),(-5.05,-15.0),(-4.92,-11.6),(-4.77,-4.6),(-4.65,-8.3),(-4.5,-4.8),(-4.34,-7.8),(-4.2,-8.4),(-4.09,-10.1),(-3.97,-4.2),(-3.83,-5.2),(-3.67,-3.7),(-3.51,-5.6),(-3.33,-3.1),(-3.24,-4.2),(-3.12,-8.6),(-2.96,-5.6),(-2.82,-6.5),(-2.68,-2.9),(-2.53,-6.7),(-2.38,-7.1),(-2.27,-3.7),(-2.13,-5.2),(-1.99,-2.2),(-1.85,0),(-0.1,0),(-0.06,-6.3),(0,-12.7),(0.08,-8.2),(0.18,0),(1.4,0),(1.5,-1.5),(1.6,-4.0),(1.75,-5.9),(1.85,-3.0),(1.95,-4.5),(2.1,-12.5),(2.2,-3.3),(2.3,0),(2.85,0),(2.99,-2.4),(3.17,-2.6),(3.45,-3.3),(3.68,-5.6),(3.95,-9.1),(4.09,-7.1),(4.32,-5.6),(4.55,-8.0),(4.74,-7.4),(4.92,-7.8),(5.11,-7.6),(5.34,-7.1),(5.5,-8.2)]
MNS_P_DN = [(-6.1,-10.7),(-6.02,-10.4),(-5.94,-10.0),(-5.77,-9.0),(-5.58,-8.4),(-5.4,-9.2),(-5.22,-10.1),(-5.05,-14.8),(-4.92,-11.4),(-4.77,-4.6),(-4.65,-8.1),(-4.5,-4.7),(-4.34,-7.6),(-4.2,-8.2),(-4.09,-9.9),(-3.97,-4.1),(-3.83,-5.0),(-3.67,-3.6),(-3.51,-5.4),(-3.33,-3.0),(-3.24,-3.8),(-3.12,-6.0),(-2.96,-5.0),(-2.82,-5.2),(-2.68,-2.9),(-2.53,-4.5),(-2.38,-5.1),(-2.27,-2.9),(-2.13,-4.3),(-1.99,-2.2),(-1.85,0),(-0.1,0),(-0.06,-0.5),(0,-1.2),(0.08,-0.5),(0.18,0),(1.4,0),(1.5,-0.5),(1.75,-1.8),(1.95,-2.5),(2.1,-5.0),(2.25,-1.5),(2.34,0),(2.85,0),(2.99,-1.3),(3.17,-1.5),(3.45,-1.8),(3.68,-3.0),(3.95,-5.9),(4.09,-4.7),(4.32,-3.8),(4.55,-5.4),(4.74,-5.5),(4.92,-5.2),(5.11,-5.3),(5.34,-4.8),(5.5,-6.2)]
MNS_D_DN = [(-6.1,-0.1),(-3.5,-0.3),(-3.2,-1.4),(-3.0,-0.8),(-2.6,-0.6),(-2.4,-1.5),(-2.2,-0.8),(-2.0,-0.3),(-1.9,0),(-0.1,0),(-0.06,-5.0),(0,-10.0),(0.08,-5.0),(0.18,0),(1.4,0),(1.5,-0.3),(1.75,-1.5),(1.85,-2.0),(1.93,-1.2),(2.06,-2.5),(2.12,-4.3),(2.25,-1.5),(2.34,0),(5.5,0)]
MNS_S_DN = [(-6.1,-0.4),(-5.0,-0.3),(-4.0,-0.2),(-3.0,-0.2),(-0.1,-0.05),(-0.05,-0.3),(0.1,0),(1.8,0),(1.9,-0.4),(2.0,0),(2.85,0),(3.0,-0.6),(3.5,-1.0),(3.95,-1.8),(4.2,-1.2),(4.5,-1.2),(4.8,-1.0),(5.0,-1.2),(5.5,-1.4)]
MNS_Q_DN = [(1.7,0),(1.8,-0.3),(1.9,-0.6),(2.0,-1.0),(2.1,-1.5),(2.2,-0.8),(2.3,0)]

LEGEND_LABELS = ['C-2$s$', 'C-2$p$', 'Sc-3$d$', 'Sc-4$p$', 'Total']
XTICKS = [-6, -5, -4, -3, -2, -1, 0, 1, 2, 3, 4, 5]
YTICKS = [-10, -5, 0, 5, 10]
YTICKLABELS = ['-10', '', '0', '', '10']

# panel: (element, subscript, label x, label y, col, row, series...)
PANELS = [
    ('Sc', '2V', -3.57, 13.6, 0, 0, SC2V_S_UP, SC2V_S_DN, SC2V_P_UP, SC2V_P_DN, SC2V_D_UP, SC2V_D_DN, SC2V_Q_UP, SC2V_Q_DN, SC2V_TOT_UP, SC2V_TOT_DN),
    ('Sc', 's', -3.1, 11.7, 1, 0, SCS_S_UP, SCS_S_DN, SCS_P_UP, SCS_P_DN, SCS_D_UP, SCS_D_DN, SCS_Q_UP, SCS_Q_DN, SCS_TOT_UP, SCS_TOT_DN),
    ('Ti', '2V', -3.55, 13.5, 0, 1, TI2V_S_UP, TI2V_S_DN, TI2V_P_UP, TI2V_P_DN, TI2V_D_UP, TI2V_D_DN, TI2V_Q_UP, TI2V_Q_DN, TI2V_TOT_UP, TI2V_TOT_DN),
    ('Ti', 's', -3.1, 13.5, 1, 1, TIS_S_UP, TIS_S_DN, TIS_P_UP, TIS_P_DN, TIS_D_UP, TIS_D_DN, TIS_Q_UP, TIS_Q_DN, TIS_TOT_UP, TIS_TOT_DN),
    ('V', '2V', -3.55, 11.6, 0, 2, V2V_S_UP, V2V_S_DN, V2V_P_UP, V2V_P_DN, V2V_D_UP, V2V_D_DN, V2V_Q_UP, V2V_Q_DN, V2V_TOT_UP, V2V_TOT_DN),
    ('V', 's', -3.1, 13.2, 1, 2, VS_S_UP, VS_S_DN, VS_P_UP, VS_P_DN, VS_D_UP, VS_D_DN, VS_Q_UP, VS_Q_DN, VS_TOT_UP, VS_TOT_DN),
    ('Cr', '2V', -3.57, 13.4, 0, 3, CR2V_S_UP, CR2V_S_DN, CR2V_P_UP, CR2V_P_DN, CR2V_D_UP, CR2V_D_DN, CR2V_Q_UP, CR2V_Q_DN, CR2V_TOT_UP, CR2V_TOT_DN),
    ('Cr', 's', -3.1, 13.4, 1, 3, CRS_S_UP, CRS_S_DN, CRS_P_UP, CRS_P_DN, CRS_D_UP, CRS_D_DN, CRS_Q_UP, CRS_Q_DN, CRS_TOT_UP, CRS_TOT_DN),
    ('Mn', '2V', -3.57, 13.4, 0, 4, MN2V_S_UP, MN2V_S_DN, MN2V_P_UP, MN2V_P_DN, MN2V_D_UP, MN2V_D_DN, MN2V_Q_UP, MN2V_Q_DN, MN2V_TOT_UP, MN2V_TOT_DN),
    ('Mn', 's', -3.1, 13.2, 1, 4, MNS_S_UP, MNS_S_DN, MNS_P_UP, MNS_P_DN, MNS_D_UP, MNS_D_DN, MNS_Q_UP, MNS_Q_DN, MNS_TOT_UP, MNS_TOT_DN),
]

C_S = '#1010ff'
C_P = '#18e018'
C_D = '#ff1010'
C_Q = '#c050f0'

W, H = 1082, 1674
fig = plt.figure(figsize=(W / 100, H / 100), dpi=100)

COL_X = [73, 648]
AX_W = 433
ROW_TOP = [8.5, 342, 675, 1007, 1340]
AX_H = 267


def xy(pairs):
    a = np.array(pairs, dtype=float)
    return a[:, 0], a[:, 1]


for (el, sub, lx, ly, col, row, s_up, s_dn, p_up, p_dn, d_up, d_dn, q_up, q_dn, t_up, t_dn) in PANELS:
    left = COL_X[col] / W
    bottom = 1 - (ROW_TOP[row] + AX_H) / H
    ax = fig.add_axes([left, bottom, AX_W / W, AX_H / H])
    ax.axhline(0, color='black', lw=1.0, zorder=1)
    ax.axvline(0, color='black', lw=0.8, ls=(0, (5, 2, 1, 2)), zorder=1)

    handles = []
    for up, dn, c, ls, lw, z in [(s_up, s_dn, C_S, '-', 0.9, 2),
                                 (p_up, p_dn, C_P, '-', 0.9, 3),
                                 (d_up, d_dn, C_D, '-', 0.9, 4),
                                 (q_up, q_dn, C_Q, (0, (1, 1)), 1.1, 0.5)]:
        h, = ax.plot(*xy(up), color=c, ls=ls, lw=lw, zorder=z)
        ax.plot(*xy(dn), color=c, ls=ls, lw=lw, zorder=z)
        handles.append(h)
    ht, = ax.plot(*xy(t_up), color='black', ls=(0, (1, 0.7)), lw=2.3, zorder=6)
    ax.plot(*xy(t_dn), color='black', ls=(0, (1, 0.7)), lw=2.3, zorder=6)
    handles.append(ht)

    ax.set_xlim(-6.1, 5.5)
    ax.set_ylim(-15, 15)
    ax.set_xticks(XTICKS)
    ax.set_xticklabels([str(v) for v in XTICKS])
    ax.set_yticks(YTICKS)
    ax.set_yticklabels(YTICKLABELS)
    ax.tick_params(direction='out', length=4, width=0.8, labelsize=14, pad=3)
    for sp in ax.spines.values():
        sp.set_linewidth(1.0)
    ax.set_ylabel('DOS (electrons/eV)', fontsize=15.5, labelpad=2)
    if row == 4:
        ax.set_xlabel('Energy (eV)', fontsize=15.5, labelpad=10)

    sub_tex = r'\mathit{' + sub + '}'
    ax.text(lx, ly, r'$\mathbf{' + el + '}_{' + sub_tex + '}$', fontsize=14,
            ha='left', va='center', zorder=7)

    if row == 0:
        ax.legend(handles, LEGEND_LABELS, loc='upper left',
                  bbox_to_anchor=(0.62 if col == 0 else 0.585, 0.985),
                  frameon=False, fontsize=9, handlelength=2.2,
                  handletextpad=0.6, labelspacing=0.35, borderpad=0,
                  borderaxespad=0)

fig.text(836 / W, 1 - 1327 / H, '1', fontsize=8, family='DejaVu Serif',
         ha='center', va='center')

fig.savefig('out.png', dpi=100)
